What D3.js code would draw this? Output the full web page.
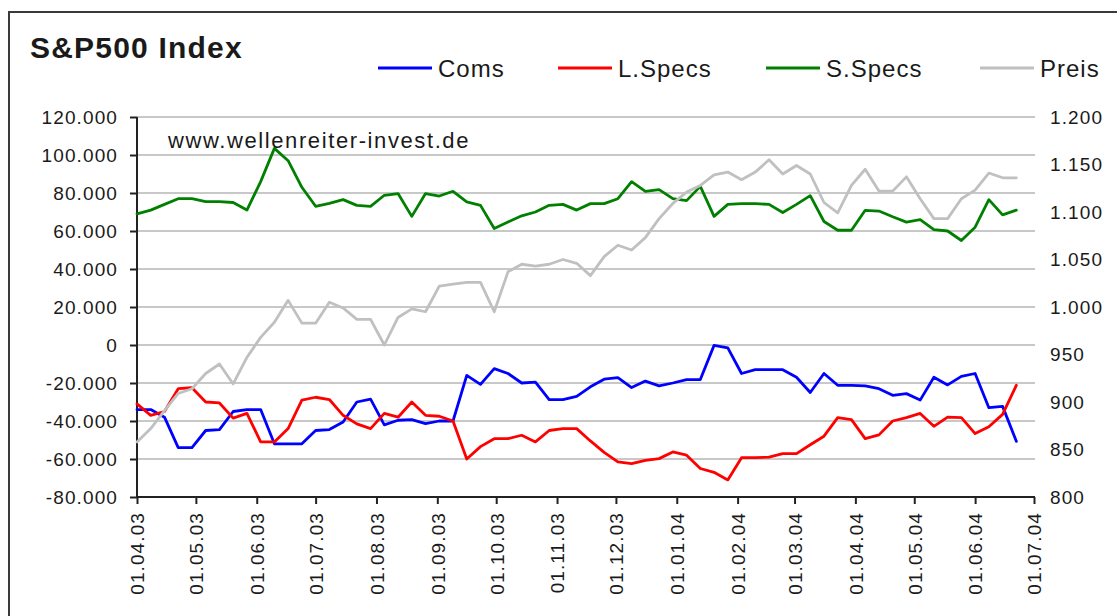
<!DOCTYPE html>
<html>
<head>
<meta charset="utf-8">
<script src="https://cdn.jsdelivr.net/npm/d3@7"></script>
<style>
  html, body { margin: 0; padding: 0; background: #fff; }
  svg { display: block; }
  text { font-family: "Liberation Sans", Arial, sans-serif; fill: #1a1a1a; }
</style>
</head>
<body>
<svg id="chart" width="1117" height="616"></svg>
<script>
// ---- data (weekly, Tuesdays) ----
const dates = [
  "2003-04-01","2003-04-08","2003-04-15","2003-04-22","2003-04-29",
  "2003-05-06","2003-05-13","2003-05-20","2003-05-27",
  "2003-06-03","2003-06-10","2003-06-17","2003-06-24",
  "2003-07-01","2003-07-08","2003-07-15","2003-07-22","2003-07-29",
  "2003-08-05","2003-08-12","2003-08-19","2003-08-26",
  "2003-09-02","2003-09-09","2003-09-16","2003-09-23","2003-09-30",
  "2003-10-07","2003-10-14","2003-10-21","2003-10-28",
  "2003-11-04","2003-11-11","2003-11-18","2003-11-25",
  "2003-12-02","2003-12-09","2003-12-16","2003-12-23","2003-12-30",
  "2004-01-06","2004-01-13","2004-01-20","2004-01-27",
  "2004-02-03","2004-02-10","2004-02-17","2004-02-24",
  "2004-03-02","2004-03-09","2004-03-16","2004-03-23","2004-03-30",
  "2004-04-06","2004-04-13","2004-04-20","2004-04-27",
  "2004-05-04","2004-05-11","2004-05-18","2004-05-25",
  "2004-06-01","2004-06-08","2004-06-15","2004-06-22"
];
const coms = [-34000,-34000,-38000,-54000,-54000,-45000,-44500,-35000,-34000,-34000,-52000,-52000,-52000,
  -45000,-44500,-40500,-30000,-28500,-42000,-39600,-39300,-41400,-40000,-40000,-16000,-20700,-12400,
  -15000,-20000,-19500,-28700,-28700,-27000,-22000,-18000,-17200,-22400,-19000,-21500,-20000,
  -18200,-18200,-200,-1500,-15000,-13000,-13000,-13000,-17000,-25000,-15000,-21200,-21200,
  -21500,-23000,-26500,-25600,-29000,-17000,-21000,-16500,-15000,-33000,-32300,-50700];
const lSpecs = [-31000,-37000,-35000,-23000,-22500,-30000,-30500,-38500,-36000,-51000,-51000,-44000,-29000,
  -27500,-28700,-37000,-41500,-44000,-36000,-38000,-30000,-37000,-37500,-40000,-60000,-53500,-49300,
  -49300,-47500,-51000,-45000,-44000,-44000,-50500,-56500,-61500,-62400,-60700,-59800,-56300,
  -58000,-65000,-67000,-71000,-59300,-59300,-59000,-57200,-57200,-52500,-48000,-38200,-39300,
  -49300,-47300,-40000,-38200,-36000,-42800,-38000,-38200,-46600,-43000,-36500,-21200];
const sSpecs = [69000,71000,74000,77000,77000,75500,75500,75000,71000,86000,103500,97000,83000,
  73000,74500,76500,73500,73000,78800,79700,67700,79700,78400,80900,75300,73500,61300,
  64700,68000,70000,73500,74000,71000,74400,74400,77000,86000,80900,81800,77000,
  76000,83500,67700,74000,74400,74400,74000,69700,74000,78600,65000,60400,60400,
  70900,70500,67500,64700,66000,60700,60000,55000,62000,76500,68500,71000];
const preis = [858,872,891,909,914,930,940,919,947,968,984,1007,983,
  983,1005,999,987,987,960,989,998,995,1022,1024,1026,1026,995,
  1037,1045,1043,1045,1050,1046,1033,1053,1065,1060,1073,1093,1109,
  1121,1128,1139,1142,1134,1142,1155,1140,1149,1140,1110,1099,1128,
  1145,1122,1122,1137,1114,1093,1093,1114,1123,1141,1136,1136];

const leftTicks = [120000,100000,80000,60000,40000,20000,0,-20000,-40000,-60000,-80000];
const rightTicks = [1200,1150,1100,1050,1000,950,900,850,800];
const monthTicks = ["2003-04-01","2003-05-01","2003-06-01","2003-07-01","2003-08-01","2003-09-01",
  "2003-10-01","2003-11-01","2003-12-01","2004-01-01","2004-02-01","2004-03-01","2004-04-01",
  "2004-05-01","2004-06-01","2004-07-01"];

const seriesNames = ["Coms","L.Specs","S.Specs","Preis"];
const seriesColors = ["#0000ff","#ff0000","#008000","#c0c0c0"];

// ---- layout ----
const parse = d3.utcParse("%Y-%m-%d");
const X0 = 137, X1 = 1034, Y0 = 497, Y1 = 117;
const x = d3.scaleUtc().domain([parse("2003-04-01"), parse("2004-07-01")]).range([X0, X1]);
const yL = d3.scaleLinear().domain([-80000, 120000]).range([Y0, Y1]);
const yR = d3.scaleLinear().domain([800, 1200]).range([Y0, Y1]);

const de = d3.formatLocale({decimal: ",", thousands: ".", grouping: [3], currency: ["", "€"], minus: "-"});
const fmt = de.format(",d");
const fmtDate = d3.utcFormat("%d.%m.%y");

const svg = d3.select("#chart");
svg.append("rect").attr("width", 1117).attr("height", 616).attr("fill", "#fff");
// outer frame
svg.append("rect").attr("x", 9).attr("y", 12).attr("width", 1200).attr("height", 700)
  .attr("fill", "none").attr("stroke", "#3a3a3a").attr("stroke-width", 2);

// gridlines
svg.append("g").selectAll("line").data(leftTicks).join("line")
  .attr("x1", X0).attr("x2", X1 + 1)
  .attr("y1", d => yL(d)).attr("y2", d => yL(d))
  .attr("stroke", "#c8c8c8").attr("stroke-width", 2);

// left axis
const gL = svg.append("g").attr("transform", `translate(${X0},0)`)
  .call(d3.axisLeft(yL).tickValues(leftTicks).tickSize(7).tickPadding(12).tickFormat(fmt));
gL.select(".domain").remove();
gL.append("line").attr("y1", Y1).attr("y2", Y0).attr("stroke", "#222").attr("stroke-width", 2);
gL.selectAll(".tick line").attr("stroke", "#222").attr("stroke-width", 2);
gL.selectAll(".tick text").attr("font-size", 19).attr("letter-spacing", 1.1)
  .attr("font-family", "Liberation Sans, Arial, sans-serif").attr("fill", "#1a1a1a");

// right axis (labels only)
const gR = svg.append("g").attr("transform", `translate(${X1},0)`)
  .call(d3.axisRight(yR).tickValues(rightTicks).tickSize(0).tickPadding(16).tickFormat(fmt));
gR.select(".domain").remove();
gR.selectAll(".tick text").attr("font-size", 19).attr("letter-spacing", 1.1)
  .attr("font-family", "Liberation Sans, Arial, sans-serif").attr("fill", "#1a1a1a");

// bottom axis
const gB = svg.append("g").attr("transform", `translate(0,${Y0})`)
  .call(d3.axisBottom(x).tickValues(monthTicks.map(parse)).tickSize(7).tickFormat(fmtDate));
gB.select(".domain").remove();
gB.append("line").attr("x1", X0 - 1).attr("x2", X1 + 1).attr("stroke", "#222").attr("stroke-width", 2);
gB.selectAll(".tick line").attr("stroke", "#222").attr("stroke-width", 2);
gB.selectAll(".tick text")
  .attr("font-size", 19).attr("letter-spacing", 1.1)
  .attr("font-family", "Liberation Sans, Arial, sans-serif").attr("fill", "#1a1a1a")
  .attr("text-anchor", "end")
  .attr("transform", "translate(0,15) rotate(-90)")
  .attr("x", 0).attr("y", 0).attr("dy", "0.36em");

// series
const pts = dates.map(parse);
const lineL = d3.line().x((d, i) => x(pts[i])).y(d => yL(d));
const lineR = d3.line().x((d, i) => x(pts[i])).y(d => yR(d));
const seriesData = [coms, lSpecs, sSpecs, preis];
seriesData.forEach((s, k) => {
  svg.append("path").datum(s)
    .attr("d", k === 3 ? lineR : lineL)
    .attr("fill", "none").attr("stroke", seriesColors[k])
    .attr("stroke-width", 2.8).attr("stroke-linejoin", "round").attr("stroke-linecap", "round");
});

// title
svg.append("text").attr("x", 30).attr("y", 58).attr("font-size", 30).attr("font-weight", "bold")
  .attr("letter-spacing", 1.2).text("S&P500 Index");

// watermark
svg.append("text").attr("x", 168).attr("y", 148).attr("font-size", 22).attr("letter-spacing", 1.6)
  .text("www.wellenreiter-invest.de");

// legend
const legendLineX = [378, 558, 766, 980];
const lg = svg.append("g");
seriesNames.forEach((n, k) => {
  lg.append("line").attr("x1", legendLineX[k]).attr("x2", legendLineX[k] + 54)
    .attr("y1", 68).attr("y2", 68).attr("stroke", seriesColors[k]).attr("stroke-width", 3);
  lg.append("text").attr("x", legendLineX[k] + 60).attr("y", 76.5).attr("font-size", 24)
    .attr("letter-spacing", 1).text(n);
});
</script>
</body>
</html>
